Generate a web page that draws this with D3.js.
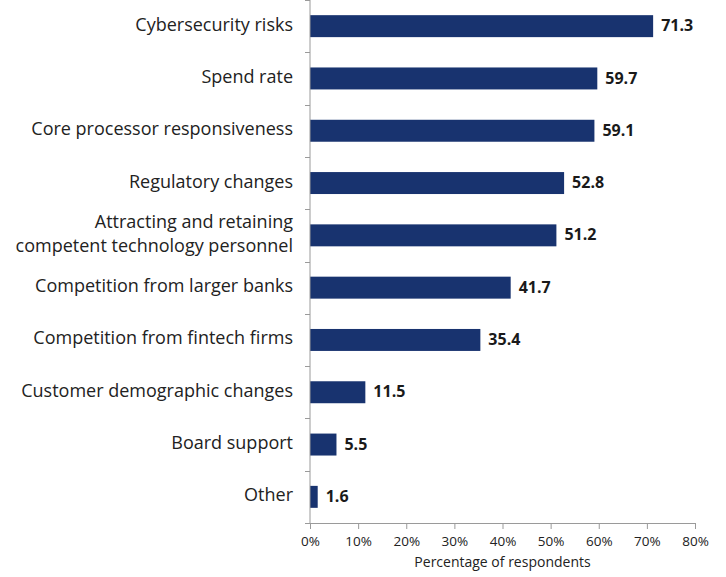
<!DOCTYPE html>
<html>
<head>
<meta charset="utf-8">
<script src="https://cdn.jsdelivr.net/npm/d3@7"></script>
<style>
  body { margin: 0; background: #fff; }
  svg { display: block; font-family: "Open Sans", sans-serif; }
</style>
</head>
<body>
<svg width="726" height="577"></svg>
<script>
const categories = [
  ['Cybersecurity risks'],
  ['Spend rate'],
  ['Core processor responsiveness'],
  ['Regulatory changes'],
  ['Attracting and retaining', 'competent technology personnel'],
  ['Competition from larger banks'],
  ['Competition from fintech firms'],
  ['Customer demographic changes'],
  ['Board support'],
  ['Other']
];
const values = [71.3, 59.7, 59.1, 52.8, 51.2, 41.7, 35.4, 11.5, 5.5, 1.6];
const xTicks = [0, 10, 20, 30, 40, 50, 60, 70, 80];
const xTitle = 'Percentage of respondents';

const svg = d3.select('svg');
const margin = {top: 0, left: 310, right: 31, bottom: 54};
const width = 726 - margin.left - margin.right;
const height = 577 - margin.top - margin.bottom;

const g = svg.append('g')
  .attr('transform', `translate(${margin.left},${margin.top})`);

const x = d3.scaleLinear().domain([0, 80]).range([0, width]);
const y = d3.scaleBand()
  .domain(d3.range(categories.length))
  .range([0, height])
  .paddingInner(0.58)
  .paddingOuter(0.29);

const axisColor = '#9a9a9a';

// bars
g.selectAll('.bar').data(values)
  .enter().append('rect')
    .attr('class', 'bar')
    .attr('x', 0)
    .attr('y', (d, i) => y(i))
    .attr('width', d => x(d))
    .attr('height', y.bandwidth())
    .attr('fill', '#18336f');

// value labels
g.selectAll('.val').data(values)
  .enter().append('text')
    .attr('class', 'val')
    .attr('x', d => x(d) + 8)
    .attr('y', (d, i) => y(i) + y.bandwidth() / 2)
    .attr('dy', '0.32em')
    .attr('font-size', 16)
    .attr('font-weight', 'bold')
    .attr('fill', '#1a1a1a')
    .text(d => d.toFixed(1));

// y axis line with boundary ticks
const step = y.step();
g.append('line')
  .attr('x1', 0).attr('x2', 0)
  .attr('y1', 0).attr('y2', height)
  .attr('stroke', axisColor);
g.selectAll('.ytick').data(d3.range(categories.length + 1))
  .enter().append('line')
    .attr('class', 'ytick')
    .attr('x1', -5).attr('x2', 0)
    .attr('y1', i => Math.round(i * step) + 0.5)
    .attr('y2', i => Math.round(i * step) + 0.5)
    .attr('stroke', axisColor);

// category labels
const cat = g.selectAll('.cat').data(categories)
  .enter().append('text')
    .attr('class', 'cat')
    .attr('text-anchor', 'end')
    .attr('font-size', 18)
    .attr('fill', '#222');
cat.each(function (lines, i) {
  const t = d3.select(this);
  const cy = y(i) + y.bandwidth() / 2;
  lines.forEach((s, j) => {
    t.append('tspan')
      .attr('x', -17)
      .attr('y', cy + (j - (lines.length - 1) / 2) * 24)
      .attr('dy', '0.25em')
      .text(s);
  });
});

// x axis
const xAxis = g.append('g')
  .attr('transform', `translate(0,${height})`)
  .call(d3.axisBottom(x).tickValues(xTicks).tickSize(6).tickFormat(d => d + '%'));
xAxis.select('.domain').attr('stroke', axisColor);
xAxis.selectAll('.tick line').attr('stroke', axisColor);
xAxis.selectAll('.tick text')
  .attr('font-size', 13.5)
  .attr('font-family', '"Open Sans", sans-serif')
  .attr('fill', '#222')
  .attr('dy', '1.02em');

g.append('text')
  .attr('x', width / 2)
  .attr('y', height + 44)
  .attr('text-anchor', 'middle')
  .attr('font-size', 14)
  .attr('fill', '#222')
  .text(xTitle);
</script>
</body>
</html>
